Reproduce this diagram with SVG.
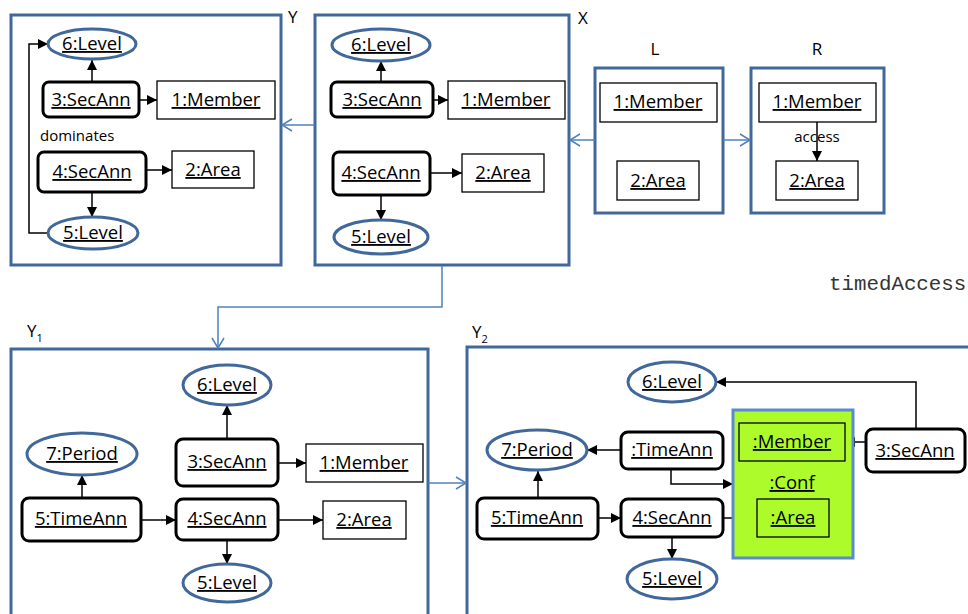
<svg xmlns="http://www.w3.org/2000/svg" width="968" height="614" viewBox="0 0 968 614">
<style>
.frame{fill:#fff;stroke:#41689a;stroke-width:3}
.ell{fill:#fff;stroke:#41689a;stroke-width:3}
.rr{fill:#fff;stroke:#000;stroke-width:3}
.rc{fill:#fff;stroke:#000;stroke-width:1.3}
.conf{fill:#adfb2b;stroke:#5b8ad0;stroke-width:3}
.rcg{fill:none;stroke:#000;stroke-width:1.3}
.t{font-family:"Open Sans","Liberation Sans",sans-serif;font-size:18.5px;text-anchor:middle;text-decoration:underline;fill:#000}
.s{font-family:"Open Sans","Liberation Sans",sans-serif;font-size:15px;fill:#000}
.lab{font-family:"Open Sans","Liberation Sans",sans-serif;font-size:17px;fill:#000}
.e{stroke:#000;stroke-width:1.5;fill:none;marker-end:url(#ah)}
.b{stroke:#4f81bd;stroke-width:1.5;fill:none;marker-end:url(#oh)}
</style>
<defs>
<marker id="ah" markerUnits="userSpaceOnUse" markerWidth="11" markerHeight="11" refX="10" refY="5.5" orient="auto">
<path d="M0,0.5 L10,5.5 L0,10.5 z" fill="#000"/>
</marker>
<marker id="oh" markerUnits="userSpaceOnUse" markerWidth="12" markerHeight="14" refX="11" refY="7" orient="auto">
<path d="M1,1 L11,7 L1,13" fill="none" stroke="#4f81bd" stroke-width="1.5"/>
</marker>
</defs>

<!-- frames -->
<g id="Y">
<rect class="frame" x="11" y="15" width="270" height="250"/>
<text class="lab" x="288" y="23">Y</text>
</g>
<g id="X">
<rect class="frame" x="315" y="15" width="254" height="250"/>
<text class="lab" x="578" y="24">X</text>
</g>
<g id="L">
<text class="lab" x="655" y="55" text-anchor="middle">L</text>
<rect class="frame" x="595" y="68" width="128" height="145"/>
</g>
<g id="R">
<text class="lab" x="817" y="55" text-anchor="middle">R</text>
<rect class="frame" x="751" y="68" width="133" height="145"/>
</g>
<g id="Y1">
<rect class="frame" x="11" y="349" width="417" height="300"/>
<text class="lab" x="27" y="337">Y<tspan font-size="11" dy="5">1</tspan></text>
</g>
<g id="Y2">
<rect class="frame" x="467" y="347" width="560" height="300"/>
<text class="lab" x="472" y="338">Y<tspan font-size="11" dy="5">2</tspan></text>
</g>

<!-- connectors -->
<g id="connectors">
<!-- Y -->
<line class="e" x1="92" y1="82" x2="92" y2="60"/>
<line class="e" x1="139" y1="100" x2="157" y2="100"/>
<line class="e" x1="146" y1="170" x2="172" y2="170"/>
<line class="e" x1="92" y1="192" x2="92" y2="217"/>
<polyline class="e" points="48,233 29,233 29,44 48,44"/>
<!-- X -->
<line class="e" x1="381" y1="82" x2="381" y2="61"/>
<line class="e" x1="433" y1="100" x2="448" y2="100"/>
<line class="e" x1="430" y1="173" x2="462" y2="173"/>
<line class="e" x1="381" y1="195" x2="381" y2="220"/>
<!-- R -->
<line class="e" x1="817" y1="122" x2="817" y2="161"/>
<!-- Y1 -->
<line class="e" x1="227" y1="439" x2="227" y2="405"/>
<line class="e" x1="278" y1="463" x2="306" y2="463"/>
<line class="e" x1="82" y1="498" x2="82" y2="475"/>
<line class="e" x1="141" y1="520" x2="176" y2="520"/>
<line class="e" x1="278" y1="520" x2="323" y2="520"/>
<line class="e" x1="227" y1="540" x2="227" y2="564"/>
<!-- Y2 -->
<polyline class="e" points="916,429 916,382 716,382"/>
<line class="e" x1="866" y1="442" x2="845" y2="442"/>
<line class="e" x1="621" y1="450" x2="587" y2="450"/>
<polyline class="e" points="671,469 671,484 733,484"/>
<line class="e" x1="538" y1="498" x2="538" y2="471"/>
<line class="e" x1="598" y1="518" x2="621" y2="518"/>
<line class="e" x1="723" y1="518" x2="757" y2="518"/>
<line class="e" x1="672" y1="537" x2="672" y2="559"/>
<!-- blue transformation arrows -->
<line class="b" x1="315" y1="125" x2="282" y2="125"/>
<line class="b" x1="595" y1="140" x2="570" y2="140"/>
<line class="b" x1="723" y1="140" x2="750" y2="140"/>
<polyline class="b" points="442,266 442,307 218,307 218,348"/>
<line class="b" x1="428" y1="483" x2="466" y2="483"/>
</g>

<!-- Y nodes -->
<g id="Y_6Level"><ellipse class="ell" cx="92" cy="44" rx="44" ry="15"/><text class="t" x="92" y="50">6:Level</text></g>
<g id="Y_3SecAnn"><rect class="rr" x="43" y="82" width="96" height="35" rx="6"/><text class="t" x="91" y="106">3:SecAnn</text></g>
<g id="Y_1Member"><rect class="rc" x="157" y="81" width="118" height="38"/><text class="t" x="216" y="106">1:Member</text></g>
<text class="s" x="40" y="141">dominates</text>
<g id="Y_4SecAnn"><rect class="rr" x="38" y="152" width="108" height="40" rx="6"/><text class="t" x="92" y="178">4:SecAnn</text></g>
<g id="Y_2Area"><rect class="rc" x="172" y="151" width="82" height="37"/><text class="t" x="213" y="176">2:Area</text></g>
<g id="Y_5Level"><ellipse class="ell" cx="93" cy="233" rx="45" ry="16"/><text class="t" x="93" y="239">5:Level</text></g>

<!-- X nodes -->
<g id="X_6Level"><ellipse class="ell" cx="381" cy="45" rx="49" ry="16"/><text class="t" x="381" y="51">6:Level</text></g>
<g id="X_3SecAnn"><rect class="rr" x="331" y="82" width="102" height="35" rx="6"/><text class="t" x="382" y="106">3:SecAnn</text></g>
<g id="X_1Member"><rect class="rc" x="448" y="81" width="117" height="38"/><text class="t" x="506" y="106">1:Member</text></g>
<g id="X_4SecAnn"><rect class="rr" x="333" y="152" width="97" height="43" rx="6"/><text class="t" x="381" y="179">4:SecAnn</text></g>
<g id="X_2Area"><rect class="rc" x="462" y="154" width="82" height="38"/><text class="t" x="503" y="179">2:Area</text></g>
<g id="X_5Level"><ellipse class="ell" cx="381" cy="237" rx="47" ry="17"/><text class="t" x="381" y="243">5:Level</text></g>

<!-- L nodes -->
<g id="L_1Member"><rect class="rc" x="600" y="83" width="117" height="39"/><text class="t" x="658" y="108">1:Member</text></g>
<g id="L_2Area"><rect class="rc" x="617" y="161" width="82" height="39"/><text class="t" x="658" y="187">2:Area</text></g>

<!-- R nodes -->
<g id="R_1Member"><rect class="rc" x="759" y="83" width="117" height="39"/><text class="t" x="817" y="108">1:Member</text></g>
<g id="R_2Area"><rect class="rc" x="776" y="161" width="82" height="39"/><text class="t" x="817" y="187">2:Area</text></g>
<text class="s" x="817" y="142" text-anchor="middle" font-size="14.5">access</text>

<text x="829" y="290" font-family="'Liberation Mono','Courier New',monospace" font-size="20.8" fill="#333">timedAccess</text>

<!-- Y1 nodes -->
<g id="Y1_6Level"><ellipse class="ell" cx="227" cy="385" rx="44" ry="20"/><text class="t" x="227" y="391">6:Level</text></g>
<g id="Y1_3SecAnn"><rect class="rr" x="176" y="439" width="102" height="47" rx="7"/><text class="t" x="227" y="468">3:SecAnn</text></g>
<g id="Y1_1Member"><rect class="rc" x="306" y="444" width="117" height="38"/><text class="t" x="364" y="469">1:Member</text></g>
<g id="Y1_7Period"><ellipse class="ell" cx="82" cy="454" rx="55" ry="21"/><text class="t" x="82" y="460">7:Period</text></g>
<g id="Y1_5TimeAnn"><rect class="rr" x="22" y="498" width="119" height="43" rx="7"/><text class="t" x="81" y="525">5:TimeAnn</text></g>
<g id="Y1_4SecAnn"><rect class="rr" x="176" y="499" width="102" height="41" rx="7"/><text class="t" x="227" y="525">4:SecAnn</text></g>
<g id="Y1_2Area"><rect class="rc" x="323" y="501" width="83" height="38"/><text class="t" x="364" y="526">2:Area</text></g>
<g id="Y1_5Level"><ellipse class="ell" cx="227" cy="583" rx="44" ry="19"/><text class="t" x="227" y="589">5:Level</text></g>

<!-- Y2 nodes -->
<g id="Y2_6Level"><ellipse class="ell" cx="672" cy="382" rx="44" ry="20"/><text class="t" x="672" y="388">6:Level</text></g>
<g id="Y2_Conf">
<rect class="conf" x="733" y="410" width="120" height="148"/>
<rect class="rcg" x="739" y="423" width="106" height="38"/><text class="t" x="792" y="448">:Member</text>
<text class="t" x="792" y="489">:Conf</text>
<rect class="rcg" x="757" y="499" width="72" height="38"/><text class="t" x="793" y="524">:Area</text>
</g>
<g id="Y2_3SecAnn"><rect class="rr" x="866" y="429" width="99" height="43" rx="7"/><text class="t" x="915" y="457">3:SecAnn</text></g>
<g id="Y2_7Period"><ellipse class="ell" cx="537" cy="450" rx="50" ry="20"/><text class="t" x="537" y="456">7:Period</text></g>
<g id="Y2_TimeAnn"><rect class="rr" x="621" y="432" width="102" height="37" rx="7"/><text class="t" x="672" y="456">:TimeAnn</text></g>
<g id="Y2_5TimeAnn"><rect class="rr" x="477" y="498" width="121" height="41" rx="7"/><text class="t" x="537" y="524">5:TimeAnn</text></g>
<g id="Y2_4SecAnn"><rect class="rr" x="621" y="499" width="102" height="38" rx="7"/><text class="t" x="672" y="524">4:SecAnn</text></g>
<g id="Y2_5Level"><ellipse class="ell" cx="672" cy="579" rx="45" ry="20"/><text class="t" x="672" y="585">5:Level</text></g>
</svg>
